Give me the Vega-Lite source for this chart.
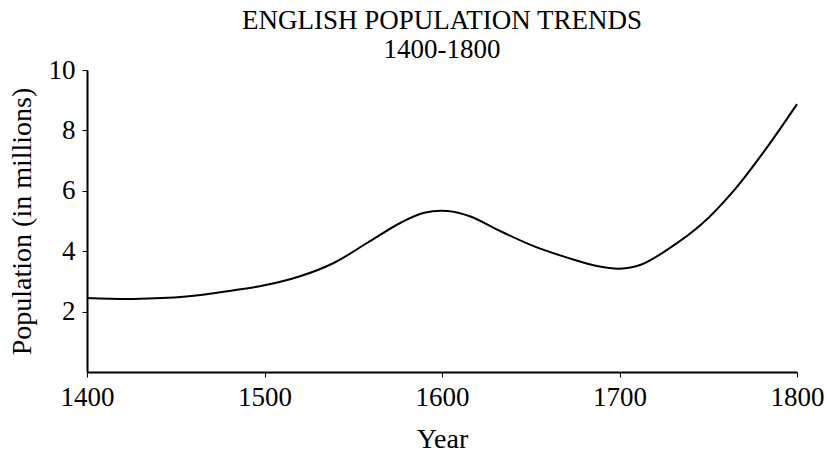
{
  "$schema": "https://vega.github.io/schema/vega-lite/v6.json",
  "width": 710,
  "height": 302,
  "autosize": "none",
  "padding": {"left": 87, "top": 70, "right": 30, "bottom": 84},
  "background": "white",
  "title": {
    "text": "ENGLISH POPULATION TRENDS",
    "subtitle": "1400-1800",
    "anchor": "middle",
    "font": "Liberation Serif",
    "subtitleFont": "Liberation Serif",
    "fontSize": 27,
    "subtitleFontSize": 27,
    "fontWeight": "normal",
    "color": "black",
    "subtitleColor": "black",
    "offset": -8,
    "subtitlePadding": 2
  },
  "data": {
    "values": [
      {"year": 1400, "pop": 2.45},
      {"year": 1426, "pop": 2.42},
      {"year": 1456, "pop": 2.5},
      {"year": 1482, "pop": 2.7},
      {"year": 1500, "pop": 2.87},
      {"year": 1520, "pop": 3.17},
      {"year": 1539, "pop": 3.61},
      {"year": 1558, "pop": 4.28},
      {"year": 1577, "pop": 4.95},
      {"year": 1590, "pop": 5.27},
      {"year": 1603, "pop": 5.33},
      {"year": 1616, "pop": 5.15},
      {"year": 1633, "pop": 4.66},
      {"year": 1652, "pop": 4.16},
      {"year": 1671, "pop": 3.78},
      {"year": 1688, "pop": 3.5},
      {"year": 1700, "pop": 3.42},
      {"year": 1712, "pop": 3.55},
      {"year": 1727, "pop": 4.05},
      {"year": 1746, "pop": 4.88},
      {"year": 1765, "pop": 6.05},
      {"year": 1783, "pop": 7.43},
      {"year": 1800, "pop": 8.87}
    ]
  },
  "mark": {"type": "line", "interpolate": "catmull-rom", "color": "black", "strokeWidth": 2},
  "encoding": {
    "x": {
      "field": "year",
      "type": "quantitative",
      "scale": {"domain": [1400, 1800], "nice": false, "zero": false},
      "axis": {
        "values": [1400, 1500, 1600, 1700, 1800],
        "format": "d",
        "title": "Year",
        "grid": false,
        "labelFlush": false,
        "labelOverlap": false,
        "domainColor": "black",
        "domainWidth": 2,
        "tickColor": "black",
        "tickSize": 5,
        "labelFont": "Liberation Serif",
        "labelFontSize": 27,
        "labelColor": "black",
        "labelPadding": 7,
        "titleFont": "Liberation Serif",
        "titleFontSize": 28,
        "titleFontWeight": "normal",
        "titleColor": "black",
        "titlePadding": 15
      }
    },
    "y": {
      "field": "pop",
      "type": "quantitative",
      "scale": {"domain": [0, 10], "nice": false},
      "axis": {
        "values": [2, 4, 6, 8, 10],
        "title": "Population (in millions)",
        "grid": false,
        "labelFlush": false,
        "labelOverlap": false,
        "domainColor": "black",
        "domainWidth": 2,
        "tickColor": "black",
        "tickSize": 5,
        "labelFont": "Liberation Serif",
        "labelFontSize": 27,
        "labelColor": "black",
        "labelPadding": 7,
        "titleFont": "Liberation Serif",
        "titleFontSize": 28,
        "titleFontWeight": "normal",
        "titleColor": "black",
        "titlePadding": 12
      }
    }
  },
  "config": {"view": {"stroke": null}}
}
